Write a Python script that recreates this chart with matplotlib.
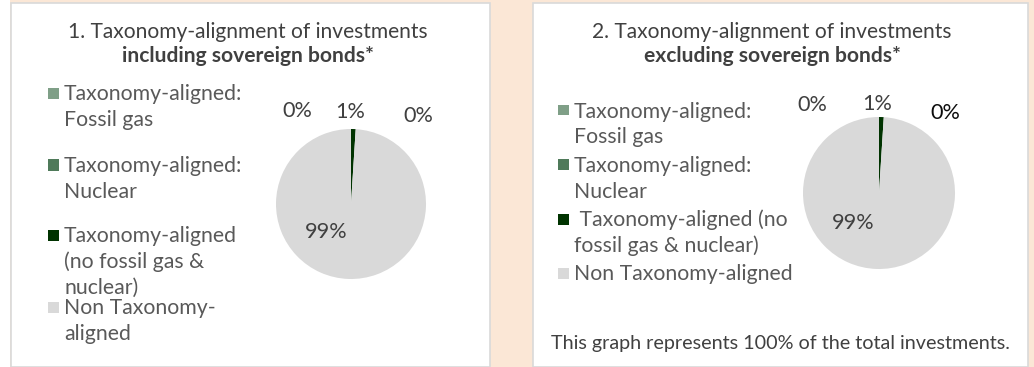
import matplotlib
matplotlib.use("Agg")
import matplotlib.pyplot as plt
from matplotlib.patches import Rectangle

plt.rcParams['font.family'] = ['Lato', 'DejaVu Sans']

# Data
categories_left = ["Taxonomy-aligned:\nFossil gas", "Taxonomy-aligned:\nNuclear",
                   "Taxonomy-aligned\n(no fossil gas &\nnuclear)", "Non Taxonomy-\naligned"]
categories_right = ["Taxonomy-aligned:\nFossil gas", "Taxonomy-aligned:\nNuclear",
                    " Taxonomy-aligned (no\nfossil gas & nuclear)", "Non Taxonomy-aligned"]
values_incl = [0, 0, 1, 99]
values_excl = [0, 0, 1, 99]
colors = ["#7F9F87", "#4F7A5A", "#003300", "#D9D9D9"]
titles = [("1. Taxonomy-alignment of investments", "including sovereign bonds*"),
          ("2. Taxonomy-alignment of investments", "excluding sovereign bonds*")]
footer = "This graph represents 100% of the total investments."

W, H = 1034, 367
fig = plt.figure(figsize=(W / 100, H / 100), dpi=100)
fig.patch.set_facecolor("white")

TEXT = "#595959"
DARK = "#404040"
LEG_FS = 15.3
LBL_FS = 15.6
TITLE_FS = 15.1


def fx(x):
    return x / W


def fy(y):
    return 1 - y / H


def rect(x0, y0, x1, y1, fc, ec="none", lw=0):
    fig.add_artist(Rectangle((fx(x0), fy(y1)), fx(x1) - fx(x0), fy(y0) - fy(y1),
                             transform=fig.transFigure, facecolor=fc, edgecolor=ec,
                             linewidth=lw, zorder=0))


# Page background and the two panels
rect(10, 0, W, H, "#FBE7D6")
rect(10.5, 2.5, 489.5, 366.5, "white", "#D9D9D9", 1.2)
rect(532.5, 2.5, 1027.5, 366.5, "white", "#D9D9D9", 1.2)


def draw_pie(cx, cy, r, values):
    ax = fig.add_axes([fx(cx - r), fy(cy + r), 2 * r / W, 2 * r / H])
    ax.pie(values, colors=colors, startangle=90, counterclock=False, radius=1,
           wedgeprops=dict(linewidth=0))
    ax.set_xlim(-1, 1)
    ax.set_ylim(-1, 1)
    ax.set_aspect("equal")
    ax.axis("off")
    return ax


def pct(v):
    return f"{v:.0f}%"


def legend_block(x_sq, x_txt, line_ys, labels):
    for ys, lab, c in zip(line_ys, labels, colors):
        rect(x_sq, ys[0] - 5.5, x_sq + 11, ys[0] + 5.5, c)
        for y, line in zip(ys, lab.split("\n")):
            fig.text(fx(x_txt), fy(y + 7.5), line, ha="left", va="baseline",
                     fontsize=LEG_FS, color=TEXT)


def titles_block(cx, pair):
    fig.text(fx(cx), fy(32), pair[0], ha="center", va="center", fontsize=TITLE_FS, color=DARK)
    fig.text(fx(cx), fy(56), pair[1], ha="center", va="center", fontsize=TITLE_FS,
             color=DARK, fontweight="bold")


# Panel 1
titles_block(248, titles[0])
draw_pie(351, 204, 75, values_incl)
# label slots: fossil gas, nuclear, aligned (no fossil gas & nuclear), non-aligned
lab1 = [(297, 111, DARK), (418, 116, DARK), (350, 112, DARK), (326, 232, DARK)]
for (x, y, c), v in zip(lab1, values_incl):
    fig.text(fx(x), fy(y), pct(v), ha="center", va="center", fontsize=LBL_FS, color=c)
legend_block(48, 64, [[93, 119], [165, 190], [235, 261, 286], [307, 332]], categories_left)

# Panel 2
titles_block(772, titles[1])
draw_pie(879, 193, 76, values_excl)
lab2 = [(812, 105, DARK), (945, 113, "#0D0D0D"), (877, 104, DARK), (853, 223, DARK)]
for (x, y, c), v in zip(lab2, values_excl):
    fig.text(fx(x), fy(y), pct(v), ha="center", va="center", fontsize=LBL_FS, color=c)
legend_block(558, 574, [[110, 136], [164, 190], [219, 244], [273]], categories_right)

fig.text(fx(780), fy(344), footer, ha="center", va="center", fontsize=14.2, color=DARK)

fig.savefig("out.png", dpi=100)
